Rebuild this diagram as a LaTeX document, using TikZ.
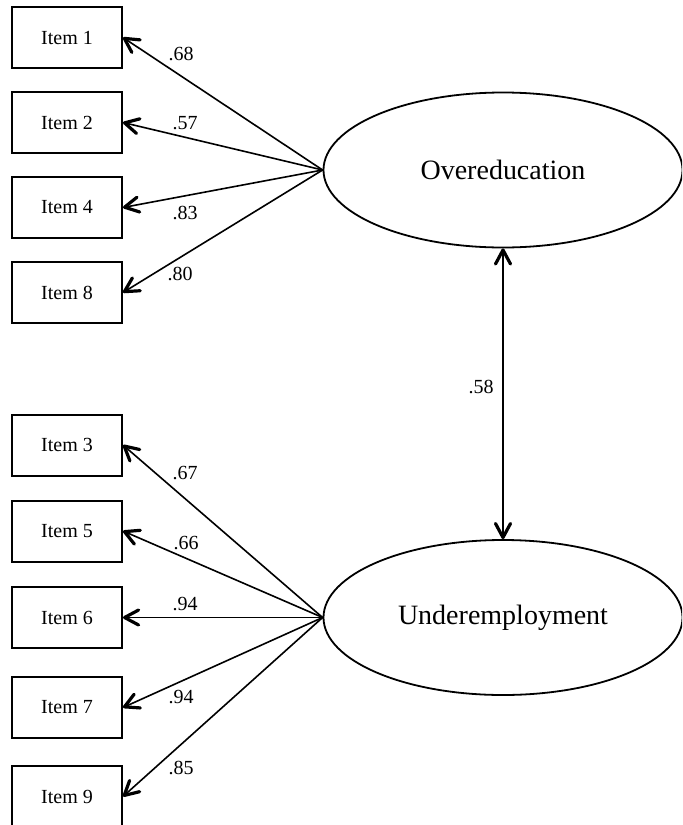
\documentclass[tikz,border=0pt]{standalone}
\usepackage{fontspec}
\setmainfont{Liberation Serif}
\usetikzlibrary{arrows.meta,shapes.geometric}

\tikzset{
  item/.style={draw,line width=1pt,minimum width=55pt,minimum height=30.5pt,inner sep=0pt,font=\fontsize{10}{12}\selectfont},
  factor/.style={draw,ellipse,line width=0.9pt,minimum width=179.5pt,minimum height=77.5pt,inner sep=0pt,font=\fontsize{14}{17}\selectfont},
  load/.style={inner sep=0pt,font=\fontsize{10}{12}\selectfont},
  path/.style={->,line width=0.8pt}
}

\begin{document}
\begin{tikzpicture}[x=0.5pt,y=-0.5pt,>={Straight Barb[length=7pt,width=7.5pt,line width=1.6pt,round]}]
		\useasboundingbox (0,0) rectangle (682,825);
		\clip (0,0) rectangle (682,825);

		% latent factors
		\node[factor] (ov) at (503,170) {Overeducation};
		\node[factor] (un) at (503,617.5) {Underemployment};

		% indicators
		\node[item] (i1) at (67,37.5) {Item 1};
		\node[item] (i2) at (67,122.5) {Item 2};
		\node[item] (i4) at (67,207.5) {Item 4};
		\node[item] (i8) at (67,292.5) {Item 8};
		\node[item] (i3) at (67,445) {Item 3};
		\node[item] (i5) at (67,531) {Item 5};
		\node[item] (i6) at (67,617.5) {Item 6};
		\node[item] (i7) at (67,707.5) {Item 7};
		\node[item] (i9) at (67,796.5) {Item 9};

		\foreach \n in {1,2,4,8} \draw[path] (ov.west) -- (i\n.east);
		\foreach \n in {3,5,6,7,9} \draw[path] (un.west) -- (i\n.east);
		\draw[path,<->] (ov.south) -- (un.north);

		% loadings
		\node[load] (l1) at (181,54) {.68};
		\node[load] (l2) at (185,123) {.57};
		\node[load] (l4) at (185,213) {.83};
		\node[load] (l8) at (180,274) {.80};
		\node[load] (l3) at (185,473) {.67};
		\node[load] (l5) at (186,543) {.66};
		\node[load] (l6) at (185,604) {.94};
		\node[load] (l7) at (181,697) {.94};
		\node[load] (l9) at (181,768) {.85};
		\node[load] (r) at (481,387) {.58};

	\end{tikzpicture}
\end{document}
